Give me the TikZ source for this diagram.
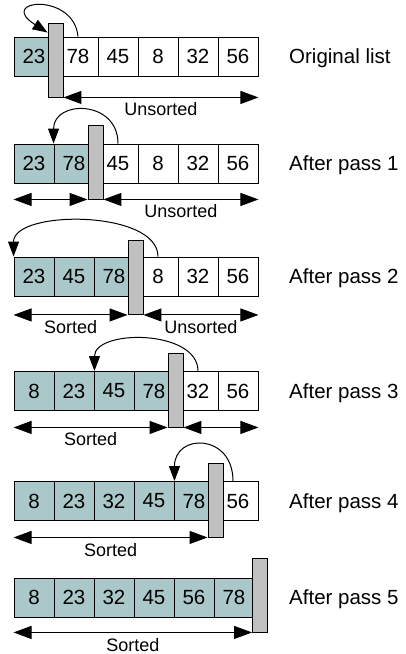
\documentclass[tikz,border=0pt]{standalone}
\usepackage{fontspec}
\setmainfont{Liberation Sans}
\usetikzlibrary{arrows.meta,calc}
\definecolor{sortedfill}{RGB}{170,200,202}
\definecolor{wallgray}{RGB}{192,192,192}

\begin{document}
\begin{tikzpicture}[x=1pt, y=-1pt,
  cell/.style={draw, line width=0.9pt, minimum width=40pt, minimum height=39pt,
               inner sep=0pt, font=\fontsize{20.5}{24}\selectfont},
  sorted/.style={cell, fill=sortedfill},
  unsorted/.style={cell, fill=white},
  wall/.style={draw, line width=0.9pt, fill=wallgray, minimum width=15pt,
               minimum height=74pt, inner sep=0pt},
  rangearrow/.style={{Triangle[length=18pt,width=13pt]}-{Triangle[length=18pt,width=13pt]}, line width=1pt},
  insertarrow/.style={-{Triangle[length=15pt,width=11pt]}, line width=1pt},
  rangelabel/.style={below=4pt, inner sep=1pt, font=\fontsize{18}{22}\selectfont},
  passlabel/.style={anchor=base west, inner sep=0pt, font=\fontsize{20.5}{24}\selectfont}]

\useasboundingbox (0,0) rectangle (405,654);

% ---- Original list ----
\foreach \v [count=\i] in {23}
  \node[sorted] (r1c\i) at (40*\i-6, 56.5) {\v};
\foreach \v [count=\i from 2] in {78,45,8,32,56}
  \node[unsorted] (r1c\i) at (40*\i-2, 56.5) {\v};
\node[wall] (w1) at (55.5, 60) {};
\draw[insertarrow] (r1c2.north) .. controls +(-4,-45) and +(-52,-33) .. ($(w1.north west)+(0,10)$);
\draw[rangearrow] (w1.south east) -- (r1c6.east |- w1.south)
  node[midway, rangelabel] {Unsorted};
\node[passlabel] (p0) at (289, 63.5) {Original list};

% ---- After pass 1 ----
\foreach \v [count=\i] in {23,78}
  \node[sorted] (r2c\i) at (40*\i-6, 163.5) {\v};
\foreach \v [count=\i from 3] in {45,8,32,56}
  \node[unsorted] (r2c\i) at (40*\i-2, 163.5) {\v};
\node[wall] (w2) at (95.5, 162) {};
\draw[insertarrow] (r2c3.north) .. controls +(0,-44) and +(0,-44) .. (r2c2.north west);
\draw[rangearrow] (r2c1.west |- w2.south) -- (w2.south west);
\draw[rangearrow] (w2.south east) -- (r2c6.east |- w2.south)
  node[midway, rangelabel] {Unsorted};
\node[passlabel] (p1) at (289, 170.5) {After pass 1};

% ---- After pass 2 ----
\foreach \v [count=\i] in {23,45,78}
  \node[sorted] (r3c\i) at (40*\i-6, 276.5) {\v};
\foreach \v [count=\i from 4] in {8,32,56}
  \node[unsorted] (r3c\i) at (40*\i-2, 276.5) {\v};
\node[wall] (w3) at (135.5, 277.5) {};
\draw[insertarrow] (r3c4.north) .. controls +(0,-47) and +(0,-47) .. (r3c1.north west);
\draw[rangearrow] (r3c1.west |- w3.south) -- (w3.south west)
  node[midway, rangelabel] {Sorted};
\draw[rangearrow] (w3.south east) -- (r3c6.east |- w3.south)
  node[midway, rangelabel] {Unsorted};
\node[passlabel] (p2) at (289, 283.5) {After pass 2};

% ---- After pass 3 ----
\foreach \v [count=\i] in {8,23,45,78}
  \node[sorted] (r4c\i) at (40*\i-6, 391) {\v};
\foreach \v [count=\i from 5] in {32,56}
  \node[unsorted] (r4c\i) at (40*\i-2, 391) {\v};
\node[wall] (w4) at (175.5, 390) {};
\draw[insertarrow] (r4c5.north) .. controls +(0,-42) and +(0,-42) .. (r4c2.north east);
\draw[rangearrow] (r4c1.west |- w4.south) -- (w4.south west)
  node[midway, rangelabel] {Sorted};
\draw[rangearrow] (w4.south east) -- (r4c6.east |- w4.south);
\node[passlabel] (p3) at (289, 398) {After pass 3};

% ---- After pass 4 ----
\foreach \v [count=\i] in {8,23,32,45,78}
  \node[sorted] (r5c\i) at (40*\i-6, 501) {\v};
\foreach \v [count=\i from 6] in {56}
  \node[unsorted] (r5c\i) at (40*\i-2, 501) {\v};
\node[wall] (w5) at (215.5, 500) {};
\draw[insertarrow] ($(r5c6.north)+(-5,0)$) .. controls +(0,-48) and +(0,-48) .. (r5c4.north east);
\draw[rangearrow] (r5c1.west |- w5.south) -- (w5.south west)
  node[midway, rangelabel] {Sorted};
\node[passlabel] (p4) at (289, 508) {After pass 4};

% ---- After pass 5 ----
\foreach \v [count=\i] in {8,23,32,45,56,78}
  \node[sorted] (r6c\i) at (40*\i-6, 597.5) {\v};
\node[wall] (w6) at (260, 595) {};
\draw[rangearrow] (r6c1.west |- w6.south) -- (w6.south west)
  node[midway, rangelabel] {Sorted};
\node[passlabel] (p5) at (289, 604.5) {After pass 5};

\end{tikzpicture}
\end{document}
